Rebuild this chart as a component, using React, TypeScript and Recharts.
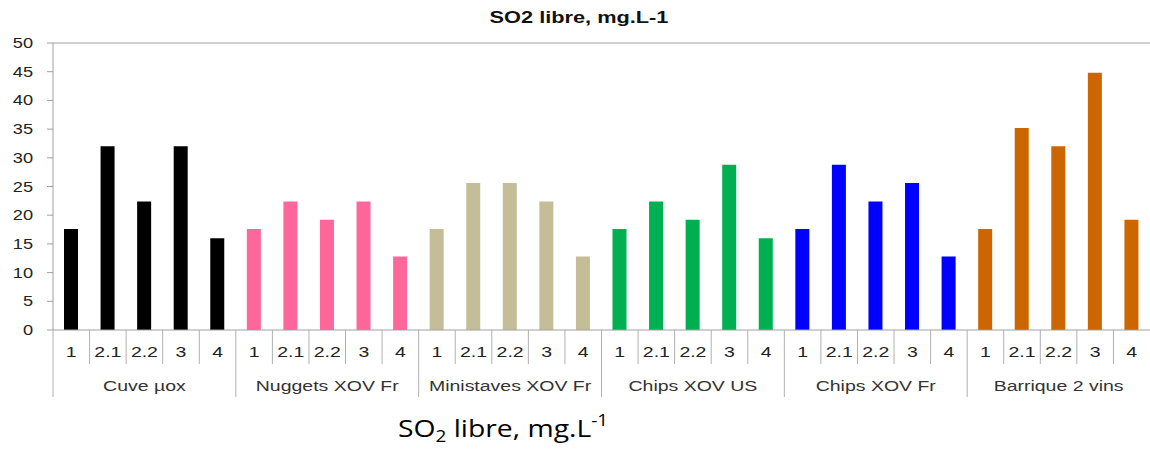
import { BarChart, Bar, XAxis, YAxis, Cell, ReferenceLine } from "recharts";

const groups = [
  "Cuve µox",
  "Nuggets XOV Fr",
  "Ministaves XOV Fr",
  "Chips XOV US",
  "Chips XOV Fr",
  "Barrique 2 vins",
];
const subs = ["1", "2.1", "2.2", "3", "4"];

const cuve = [17.6, 32, 22.4, 32, 16];
const nuggets = [17.6, 22.4, 19.2, 22.4, 12.8];
const ministaves = [17.6, 25.6, 25.6, 22.4, 12.8];
const chipsUS = [17.6, 22.4, 19.2, 28.8, 16];
const chipsFr = [17.6, 28.8, 22.4, 25.6, 12.8];
const barrique = [17.6, 35.2, 32, 44.8, 19.2];

const groupValues = [cuve, nuggets, ministaves, chipsUS, chipsFr, barrique];
const groupColors = ["#000000", "#FF6699", "#C4BD97", "#00B050", "#0000FF", "#CC6600"];

const yTicks = [0, 5, 10, 15, 20, 25, 30, 35, 40, 45, 50];

const data = groups.flatMap((g, gi) =>
  subs.map((s, si) => ({
    key: `${gi}-${si}`,
    group: g,
    sub: s,
    value: groupValues[gi][si],
    color: groupColors[gi],
  }))
);

const W = 1150;
const H = 451;
const LEFT = 53;
const BOTTOM = 330;
const band = (W - LEFT) / data.length;
const FONT = "'Liberation Sans', Arial, sans-serif";
// the source image is stretched horizontally, so text is widened
const STRETCH = 1.3;

function CategoryTick(props: any) {
  const { x, payload } = props;
  const i = payload.index;
  const row = data[i];
  const left = x - band / 2;
  const groupStart = i % subs.length === 0;
  return (
    <g>
      <line
        x1={left}
        x2={left}
        y1={BOTTOM}
        y2={groupStart ? 397 : 364}
        stroke="#b0b0b0"
        strokeWidth={1}
      />
      <g transform={`translate(${x},357) scale(${STRETCH},1)`}>
        <text textAnchor="middle" fontFamily={FONT} fontSize={15} fill="#222">
          {row.sub}
        </text>
      </g>
      {i % subs.length === 2 && (
        <g transform={`translate(${x},391) scale(${STRETCH},1)`}>
          <text textAnchor="middle" fontFamily={FONT} fontSize={15} fill="#333">
            {row.group}
          </text>
        </g>
      )}
    </g>
  );
}

function ValueTick(props: any) {
  const { x, y, payload } = props;
  return (
    <g transform={`translate(${x},${y}) scale(${STRETCH},1)`}>
      <text textAnchor="end" dy="0.36em" fontFamily={FONT} fontSize={14} fill="#222">
        {payload.value}
      </text>
    </g>
  );
}

export default function App() {
  return (
    <div
      style={{
        position: "absolute",
        left: 0,
        top: 0,
        width: W,
        height: H,
        background: "#fff",
      }}
    >
      <BarChart
        width={W}
        height={H}
        data={data}
        margin={{ top: 43, right: 0, left: 0, bottom: 0 }}
        barCategoryGap={0}
      >
        <ReferenceLine y={50} stroke="#a0a0a0" ifOverflow="extendDomain" />
        <XAxis
          dataKey="key"
          interval={0}
          height={H - BOTTOM}
          tickLine={false}
          axisLine={{ stroke: "#a0a0a0" }}
          tick={<CategoryTick />}
        />
        <YAxis
          width={LEFT}
          domain={[0, 50]}
          ticks={yTicks}
          interval={0}
          tickSize={6}
          tickMargin={14}
          tickLine={{ stroke: "#a0a0a0" }}
          axisLine={{ stroke: "#a0a0a0" }}
          tick={<ValueTick />}
        />
        <Bar dataKey="value" barSize={14} isAnimationActive={false}>
          {data.map((d) => (
            <Cell key={d.key} fill={d.color} />
          ))}
        </Bar>
      </BarChart>
      <svg
        width={W}
        height={H}
        style={{ position: "absolute", left: 0, top: 0, pointerEvents: "none" }}
      >
        <g transform={`translate(579,23) scale(1.28,1)`}>
          <text
            textAnchor="middle"
            fontFamily={FONT}
            fontWeight="bold"
            fontSize={17}
            fill="#111"
          >
            SO2 libre, mg.L-1
          </text>
        </g>
        <g transform={`translate(398,437) scale(1.18,1)`}>
          <text fontFamily="'Open Sans', sans-serif" fontSize={24} fill="#000">
            SO
            <tspan fontSize={16} dy={5}>
              2
            </tspan>
            <tspan dy={-5}> libre, mg.L</tspan>
            <tspan fontSize={16} dy={-11}>
              -1
            </tspan>
          </text>
        </g>
      </svg>
    </div>
  );
}
